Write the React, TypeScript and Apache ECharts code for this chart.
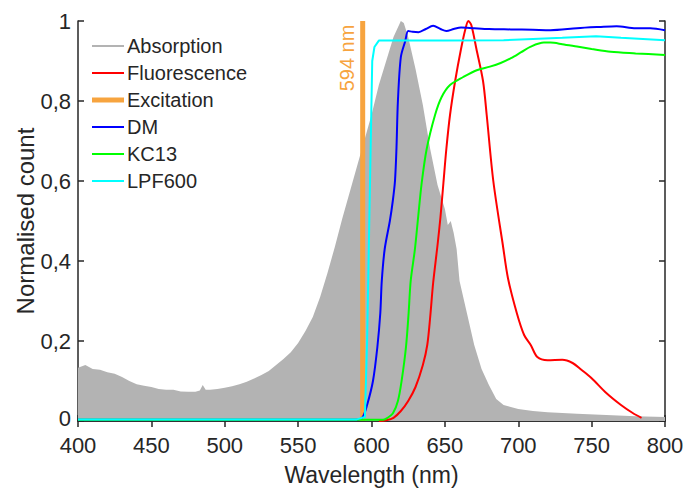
import React, { useEffect, useRef } from "react";
import * as echarts from "echarts";

// ---- Data ----
const absWl = [400,405,410,415,420,425,430,435,440,445,450,455,460,465,470,475,480,483,485,487,490,495,500,505,510,515,520,525,530,535,540,545,550,555,560,565,570,575,580,585,590,595,600,605,610,615,620,622,625,630,635,640,645,650,652,654,656,658,660,665,670,675,680,685,690,700,710,720,740,760,780,800];
const absVal = [0.133,0.14,0.13,0.128,0.122,0.118,0.11,0.1,0.092,0.088,0.085,0.08,0.078,0.078,0.074,0.073,0.073,0.076,0.09,0.078,0.078,0.08,0.083,0.087,0.092,0.098,0.106,0.115,0.125,0.14,0.155,0.172,0.195,0.225,0.26,0.31,0.37,0.435,0.505,0.57,0.635,0.7,0.765,0.84,0.9,0.96,1.0,0.995,0.96,0.88,0.79,0.68,0.59,0.53,0.49,0.5,0.47,0.43,0.35,0.27,0.19,0.13,0.09,0.055,0.04,0.03,0.025,0.022,0.018,0.015,0.012,0.01];

const fluWl = [605,610,615,620,625,630,635,638,640,642,645,647,649,651,653.5,657,661,664,666,668,671.5,676,678.5,683,689.5,693,699,704,708.5,713,720,730,737,743,750,760,770,778,784];
const fluVal = [0.0,0.002,0.008,0.025,0.05,0.085,0.14,0.19,0.26,0.345,0.44,0.51,0.595,0.68,0.765,0.85,0.93,0.98,1.0,0.99,0.93,0.85,0.765,0.6,0.44,0.357,0.27,0.215,0.19,0.16,0.152,0.153,0.145,0.128,0.107,0.07,0.04,0.02,0.008];

const excWl = [594, 594];
const excVal = [0, 1];

const dmWl = [400,590,594,597,601,604,606,607,609,612.5,614.5,616,617,618,620,623,625,628,632,637,642,647,651,656,661,670,680,695,710,722,740,755,767,780,790,800];
const dmVal = [0.003,0.003,0.01,0.04,0.1,0.185,0.27,0.35,0.43,0.5,0.55,0.6,0.68,0.8,0.91,0.95,0.975,0.973,0.972,0.98,0.988,0.98,0.975,0.98,0.984,0.982,0.98,0.979,0.978,0.977,0.982,0.985,0.987,0.982,0.982,0.977];

const kcWl = [400,608,611,614.7,618,620.5,623.5,625.3,626.7,629.6,631.8,634.2,637.6,643.3,647.8,653.5,662.5,671.7,680.7,688,695,702,708.5,717.5,722,730,740,750,763,780,800];
const kcVal = [0.003,0.003,0.008,0.02,0.05,0.1,0.185,0.27,0.35,0.43,0.51,0.595,0.68,0.765,0.81,0.84,0.86,0.877,0.886,0.895,0.907,0.922,0.936,0.946,0.946,0.942,0.936,0.93,0.923,0.919,0.915];

const lpfWl = [400,590,595.5,597,599,600.5,602,605,650,690,710,730,753,770,785,800];
const lpfVal = [0.004,0.004,0.01,0.2,0.6,0.9,0.935,0.951,0.951,0.952,0.955,0.958,0.962,0.958,0.955,0.952];

const xTicks = { min: 400, max: 800, interval: 50 };
const yTicks = { min: 0, max: 1, interval: 0.2 };

const seriesNames = ["Absorption", "Fluorescence", "Excitation", "DM", "KC13", "LPF600"];
const seriesColors = ["#b3b3b3", "#ff0000", "#f7a43f", "#0000ff", "#00ff00", "#00ffff"];
const excitationLabel = "594 nm";

const zip = (xs: number[], ys: number[]) => xs.map((x, i) => [x, ys[i]]);

const FONT = "Liberation Sans, Arial, sans-serif";
const INK = "#262626";

export default function App() {
  const ref = useRef<HTMLDivElement>(null);
  useEffect(() => {
    if (!ref.current) return;
    const chart = echarts.init(ref.current, undefined, { renderer: "svg" });
    const axisLine = { show: true, lineStyle: { color: INK, width: 1.5 } };
    const axisTick = { show: true, inside: true, length: 6, lineStyle: { color: INK, width: 1.5 } };
    const thin = "path://M0,0h32v2h-32z";
    const thick = "path://M0,0h32v5h-32z";
    const option: any = {
      animation: false,
      backgroundColor: "#ffffff",
      textStyle: { fontFamily: FONT },
      grid: { left: 78, right: 23, top: 21, bottom: 68, containLabel: false, outerBoundsMode: "none" },
      legend: {
        orient: "vertical",
        left: 92,
        top: 36,
        padding: 0,
        itemWidth: 32,
        itemHeight: 14,
        itemGap: 7,
        symbolKeepAspect: true,
        selectedMode: false,
        itemStyle: { borderWidth: 0 },
        textStyle: { fontSize: 20, color: INK, fontFamily: FONT, padding: [0, 0, 0, -2] },
        data: seriesNames.map((n, i) => ({ name: n, icon: i === 2 ? thick : thin })),
      },
      xAxis: [
        {
          type: "value", ...xTicks, position: "bottom",
          axisLine, axisTick,
          splitLine: { show: false },
          axisLabel: { fontSize: 22, lineHeight: 20, color: INK, margin: 14, fontFamily: FONT },
          name: "Wavelength (nm)", nameLocation: "middle", nameGap: 42,
          nameTextStyle: { fontSize: 23, color: INK, fontFamily: FONT },
        },
        {
          type: "value", ...xTicks, position: "top",
          axisLine, axisTick,
          splitLine: { show: false },
          axisLabel: { show: false },
        },
      ],
      yAxis: [
        {
          type: "value", ...yTicks, position: "left",
          axisLine, axisTick,
          splitLine: { show: false },
          axisLabel: {
            fontSize: 22, lineHeight: 20, color: INK, margin: 7, fontFamily: FONT,
            formatter: (v: number) => {
              const s = String(Math.round(v * 10) / 10).replace(".", ",");
              return v === 0 ? "{z|" + s + "}" : s;
            },
            rich: { z: { fontSize: 22, lineHeight: 20, color: INK, fontFamily: FONT, padding: [0, 0, 6, 0] } },
          },
          name: "Normalised count", nameLocation: "middle", nameGap: 41, nameMoveOverlap: false,
          nameTextStyle: { fontSize: 24, color: INK, fontFamily: FONT },
        },
        {
          type: "value", ...yTicks, position: "right",
          axisLine, axisTick,
          splitLine: { show: false },
          axisLabel: { show: false },
        },
      ],
      series: [
        {
          name: seriesNames[0], type: "line", data: zip(absWl, absVal),
          color: seriesColors[0], symbol: "none", showSymbol: false,
          lineStyle: { width: 0, color: seriesColors[0] },
          areaStyle: { color: seriesColors[0], opacity: 1 },
          itemStyle: { color: seriesColors[0] },
          z: 1,
        },
        {
          name: seriesNames[1], type: "line", data: zip(fluWl, fluVal), smooth: 0.3,
          color: seriesColors[1], symbol: "none", showSymbol: false,
          lineStyle: { width: 2, color: seriesColors[1] }, itemStyle: { color: seriesColors[1] }, z: 3,
        },
        {
          name: seriesNames[2], type: "line", data: zip(excWl, excVal),
          color: seriesColors[2], symbol: "none", showSymbol: false,
          lineStyle: { width: 5, color: seriesColors[2] }, itemStyle: { color: seriesColors[2] }, z: 2,
        },
        {
          name: seriesNames[3], type: "line", data: zip(dmWl, dmVal), smooth: 0.3,
          color: seriesColors[3], symbol: "none", showSymbol: false,
          lineStyle: { width: 2, color: seriesColors[3] }, itemStyle: { color: seriesColors[3] }, z: 3,
        },
        {
          name: seriesNames[4], type: "line", data: zip(kcWl, kcVal), smooth: 0.3,
          color: seriesColors[4], symbol: "none", showSymbol: false,
          lineStyle: { width: 2, color: seriesColors[4] }, itemStyle: { color: seriesColors[4] }, z: 3,
        },
        {
          name: seriesNames[5], type: "line", data: zip(lpfWl, lpfVal),
          color: seriesColors[5], symbol: "none", showSymbol: false,
          lineStyle: { width: 2, color: seriesColors[5] }, itemStyle: { color: seriesColors[5] }, z: 3,
        },
      ],
      graphic: [
        {
          type: "text", x: 347, y: 58, rotation: Math.PI / 2, z: 10,
          style: { text: excitationLabel, fontSize: 20, fill: seriesColors[2], align: "center", verticalAlign: "middle", fontFamily: FONT },
        },
      ],
    };
    chart.setOption(option);
    return () => chart.dispose();
  }, []);
  return (
    <div
      ref={ref}
      style={{ position: "fixed", left: 0, top: 0, width: 688, height: 489, background: "#fff" }}
    />
  );
}
